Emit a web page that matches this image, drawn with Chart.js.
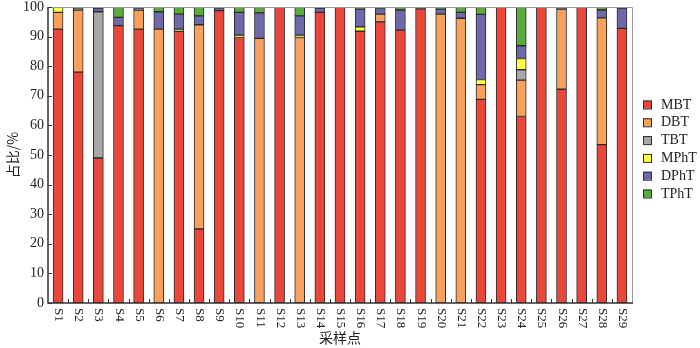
<!DOCTYPE html>
<html>
<head>
<meta charset="utf-8">
<script src="https://cdn.jsdelivr.net/npm/chart.js@4/dist/chart.umd.min.js"></script>
<style>
html,body{margin:0;padding:0;background:#fff;}
#wrap{width:700px;height:348px;position:relative;}
</style>
</head>
<body>
<div id="wrap"><canvas id="c" width="700" height="348"></canvas></div>
<script>
const categories = ['S1','S2','S3','S4','S5','S6','S7','S8','S9','S10','S11','S12','S13','S14','S15','S16','S17','S18','S19','S20','S21','S22','S23','S24','S25','S26','S27','S28','S29'];
const seriesNames = ['MBT','DBT','TBT','MPhT','DPhT','TPhT'];
const MBT  = [92.5,78,49,93.7,92.5,0,91.8,25,98.8,89.7,0,100,0,98.2,100,91.8,95,92.2,99.4,0,0,68.8,100,63,100,72.2,100,53.5,92.8];
const DBT  = [5.7,21,0,0,6.5,92.5,0,69,0,0,89.4,0,89.7,0,0,0,2.6,0,0,97.6,96.2,5,0,12.3,0,27.1,0,42.8,0];
const TBT  = [0,0,49.4,0,0,0,0,0,0,0,0,0,0,0,0,0,0,0,0,0,0,0,0,3.5,0,0,0,0,0];
const MPhT = [1.8,0,0,0,0,0,0.7,0,0,0.8,0,0,0.8,0,0,1.5,0,0,0,0,0,1.7,0,3.8,0,0,0,0,0];
const DPhT = [0,0.3,1.2,2.8,0.5,5.9,5.1,3,0.9,7.7,8.6,0,6.5,1.4,0,6,1.9,6.8,0.6,1.7,2,22,0,4.3,0,0.7,0,2.7,6.8];
const TPhT = [0,0.7,0.4,3.5,0.5,1.6,2.4,3,0.3,1.8,2,0,3,0.4,0,0.7,0.5,1,0,0.7,1.8,2.5,0,13.1,0,0,0,1,0.4];
const yTicks = [0,10,20,30,40,50,60,70,80,90,100];
const colors = ['#e8473a','#f9a05d','#aaa6a6','#ffff44','#6e6aaa','#5aaa3c'];

const seriesValues = [MBT,DBT,TBT,MPhT,DPhT,TPhT];
const serif = "'Liberation Serif','Times New Roman',serif";

const datasets = seriesNames.map((n,i)=>({
  label:n,
  data:seriesValues[i].map(v=>v===0?null:v),
  backgroundColor:colors[i],
  borderColor:'#2b2b2b',
  borderWidth:1,
  borderSkipped:false,
  barThickness:10
}));

const decor = {
  id:'decor',
  afterDraw(chart){
    const ctx = chart.ctx;
    const a = chart.chartArea;
    const xs = chart.scales.x, ys = chart.scales.y;
    ctx.save();
    ctx.lineWidth = 1;
    ctx.strokeStyle = '#9a9a9a';
    ctx.beginPath();
    ctx.moveTo(a.left, a.top+0.5); ctx.lineTo(a.right+0.5, a.top+0.5); ctx.lineTo(a.right+0.5, a.bottom);
    ctx.stroke();
    ctx.strokeStyle = '#333';
    ctx.lineWidth = 1.5;
    ctx.beginPath();
    ctx.moveTo(a.left, a.top); ctx.lineTo(a.left, a.bottom); ctx.lineTo(a.right+1, a.bottom);
    ctx.stroke();
    ctx.lineWidth = 1;
    yTicks.forEach(v=>{
      const y = Math.round(ys.getPixelForValue(v))+0.5;
      ctx.beginPath(); ctx.moveTo(a.left, y); ctx.lineTo(a.left+4, y); ctx.stroke();
    });
    for(let i=0;i<categories.length-1;i++){
      const x = Math.round((xs.getPixelForValue(i)+xs.getPixelForValue(i+1))/2)+0.5;
      ctx.beginPath(); ctx.moveTo(x, a.bottom); ctx.lineTo(x, a.bottom-4); ctx.stroke();
    }
    ctx.fillStyle = '#222';
    ctx.font = "13px " + serif;
    ctx.textAlign = 'left';
    ctx.textBaseline = 'middle';
    categories.forEach((c,i)=>{
      const x = xs.getPixelForValue(i);
      ctx.save();
      ctx.translate(x+0.5, a.bottom+5);
      ctx.rotate(Math.PI/2);
      ctx.fillText(c,0,0);
      ctx.restore();
    });
    const lx = 643, ly0 = 104.5, step = 17.8;
    chart.data.datasets.forEach((d,i)=>{
      const y = ly0 + i*step;
      ctx.fillStyle = d.backgroundColor;
      ctx.fillRect(lx, y-4, 8, 8);
      ctx.strokeStyle = '#2b2b2b';
      ctx.lineWidth = 1;
      ctx.strokeRect(lx+0.5, y-3.5, 8, 8);
      ctx.fillStyle = '#222';
      ctx.font = "14px " + serif;
      ctx.textAlign = 'left';
      ctx.textBaseline = 'middle';
      ctx.fillText(d.label, 661, y+0.5);
    });
    ctx.restore();
  }
};

new Chart(document.getElementById('c'), {
  type:'bar',
  data:{labels:categories, datasets},
  options:{
    responsive:false,
    animation:false,
    layout:{padding:{top:7,right:68,left:0,bottom:0}},
    plugins:{legend:{display:false},tooltip:{enabled:false}},
    scales:{
      x:{
        stacked:true,
        grid:{display:false},
        border:{display:false},
        ticks:{display:false},
        title:{display:true,text:'采样点',color:'#222',font:{family:"'Noto Sans CJK SC'",size:14},padding:{top:0,bottom:2}},
        afterFit(s){ s.height = 45; s.paddingLeft = 0; s.paddingRight = 0; }
      },
      y:{
        stacked:true,
        min:0,max:100,
        afterBuildTicks(s){ s.ticks = yTicks.map(v=>({value:v})); },
        grid:{display:false,drawTicks:false},
        border:{display:false},
        ticks:{color:'#222',font:{family:serif,size:14},padding:4},
        title:{display:true,text:'占比/%',color:'#222',font:{family:"'Noto Sans CJK SC'",size:14},padding:{top:4,bottom:0}},
        afterFit(s){ s.width = 48; s.paddingTop = 0; s.paddingBottom = 0; }
      }
    }
  },
  plugins:[decor]
});
</script>
</body>
</html>
